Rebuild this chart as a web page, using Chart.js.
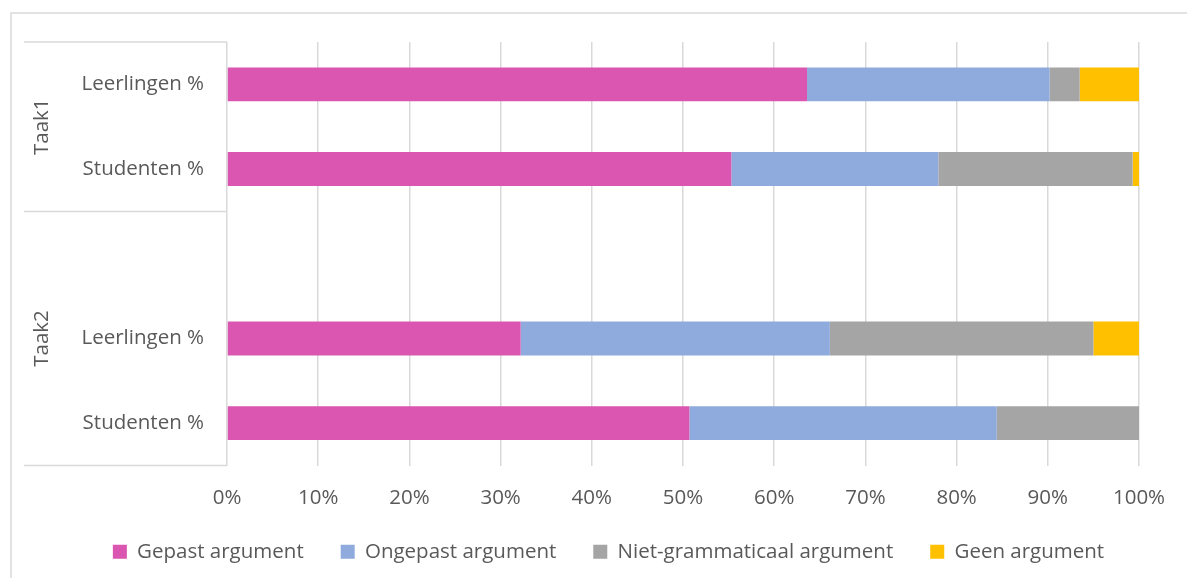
<!DOCTYPE html>
<html>
<head>
<meta charset="utf-8">
<script src="https://cdn.jsdelivr.net/npm/chart.js@4/dist/chart.umd.min.js"></script>
<style>
html,body{margin:0;padding:0;background:#fff;}
#wrap{position:relative;width:1187px;height:578px;}
</style>
</head>
<body>
<div id="wrap"><canvas id="c" width="1187" height="578"></canvas></div>
<script>
const categories = ['Leerlingen %', 'Studenten %', '', 'Leerlingen %', 'Studenten %'];
const groups = ['Taak1', 'Taak2'];
const seriesNames = ['Gepast argument', 'Ongepast argument', 'Niet-grammaticaal argument', 'Geen argument'];
const gepast = [63.6, 55.3, null, 32.2, 50.7];
const ongepast = [26.6, 22.7, null, 33.9, 33.7];
const nietGram = [3.3, 21.3, null, 28.9, 15.6];
const geen = [6.5, 0.7, null, 5.0, 0];
const xTicks = [0, 10, 20, 30, 40, 50, 60, 70, 80, 90, 100];

const colors = ['#DA56B0', '#8FAADC', '#A5A5A5', '#FFC000'];
const FONT = '"Open Sans", Lato, sans-serif';
const FSIZE = 20.5;
const TEXT = '#595959';
const LINE = '#d9d9d9';
const PAD_LEFT = 30;

const decor = {
  id: 'decor',
  beforeDraw(chart) {
    const ctx = chart.ctx;
    ctx.save();
    ctx.strokeStyle = LINE;
    ctx.lineWidth = 1.5;
    ctx.beginPath();
    ctx.moveTo(11, 600); ctx.lineTo(11, 13); ctx.lineTo(1200, 13);
    ctx.stroke();
    ctx.restore();
  },
  afterDraw(chart) {
    const ctx = chart.ctx;
    const y = chart.scales.y;
    const area = chart.chartArea;
    const left = 24;
    const sep = y.getPixelForValue(1.5);
    const lines = [area.top, sep, area.bottom];
    ctx.save();
    ctx.strokeStyle = LINE;
    ctx.lineWidth = 1.5;
    lines.forEach(py => {
      ctx.beginPath();
      ctx.moveTo(left, py); ctx.lineTo(area.left, py);
      ctx.stroke();
    });
    ctx.fillStyle = TEXT;
    ctx.font = FSIZE + 'px ' + FONT;
    ctx.textAlign = 'center';
    ctx.textBaseline = 'middle';
    const centers = [(area.top + sep) / 2, (sep + area.bottom) / 2];
    groups.forEach((g, i) => {
      ctx.save();
      ctx.translate(42, centers[i]);
      ctx.rotate(-Math.PI / 2);
      ctx.fillText(g, 0, 0);
      ctx.restore();
    });
    ctx.restore();
  }
};

const data = {
  labels: categories,
  datasets: [gepast, ongepast, nietGram, geen].map((d, i) => ({
    label: seriesNames[i],
    data: d,
    backgroundColor: colors[i],
    borderWidth: 0,
    barPercentage: 0.4,
    categoryPercentage: 1.0
  }))
};

new Chart(document.getElementById('c'), {
  type: 'bar',
  data,
  plugins: [decor],
  options: {
    indexAxis: 'y',
    responsive: false,
    animation: false,
    layout: { padding: { top: 42, right: 0, left: PAD_LEFT, bottom: 6 } },
    plugins: {
      legend: {
        position: 'bottom',
        labels: {
          boxWidth: 14, boxHeight: 14,
          color: TEXT,
          font: { family: FONT, size: FSIZE },
          padding: 37
        }
      },
      tooltip: { enabled: false }
    },
    scales: {
      x: {
        stacked: true,
        min: 0, max: 100,
        afterBuildTicks(scale) { scale.ticks = xTicks.map(v => ({ value: v })); },
        ticks: {
          callback: v => v + '%',
          color: TEXT,
          font: { family: FONT, size: FSIZE },
          padding: 20
        },
        grid: { color: LINE, lineWidth: 1.5, drawTicks: false },
        border: { display: false },
        afterFit(scale) { scale.height = 39; }
      },
      y: {
        stacked: true,
        ticks: {
          color: TEXT,
          font: { family: FONT, size: FSIZE },
          padding: 23
        },
        grid: { display: false, drawTicks: false },
        border: { display: false },
        afterFit(scale) { scale.width = 227 - PAD_LEFT; }
      },
      spacer: {
        type: 'linear',
        position: 'right',
        display: true,
        grid: { display: false, drawTicks: false },
        ticks: { display: false },
        border: { display: false },
        afterFit(scale) { scale.width = 48; }
      }
    }
  }
});
</script>
</body>
</html>
